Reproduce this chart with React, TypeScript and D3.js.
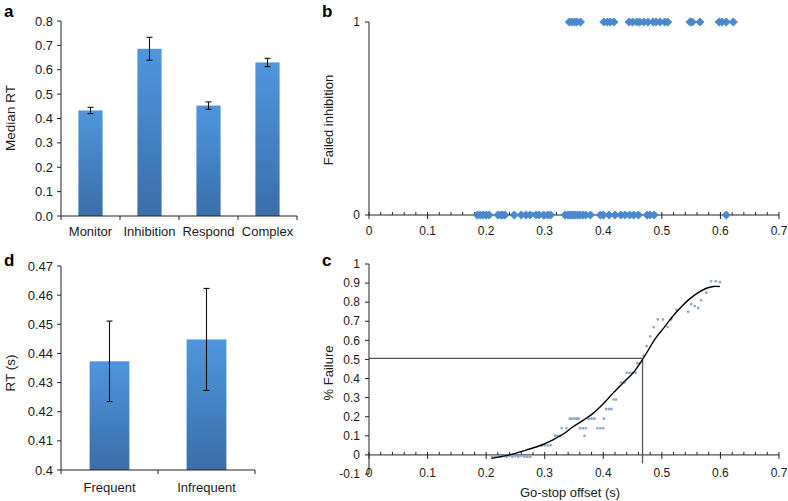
import React from "react";
import * as d3 from "d3";

// ---------- Data ----------
const taskCategories = ["Monitor", "Inhibition", "Respond", "Complex"];
const taskMedianRT = [0.433, 0.686, 0.453, 0.63];
const taskRTError = [0.013, 0.047, 0.015, 0.017];
const taskTicks = [0, 0.1, 0.2, 0.3, 0.4, 0.5, 0.6, 0.7, 0.8];

const freqCategories = ["Frequent", "Infrequent"];
const freqRT = [0.4373, 0.4448];
const freqRTError = [0.0138, 0.0175];
const freqTicks = [0.4, 0.41, 0.42, 0.43, 0.44, 0.45, 0.46, 0.47];

const failedOffsets = [0.342, 0.346, 0.351, 0.355, 0.361, 0.401, 0.407, 0.412, 0.418, 0.444, 0.45, 0.457, 0.462, 0.469, 0.476, 0.485, 0.49, 0.497, 0.505, 0.51, 0.548, 0.552, 0.565, 0.598, 0.603, 0.61, 0.622];
const successOffsets = [0.185, 0.19, 0.195, 0.2, 0.205, 0.22, 0.225, 0.228, 0.232, 0.248, 0.26, 0.268, 0.275, 0.285, 0.29, 0.298, 0.305, 0.31, 0.335, 0.34, 0.343, 0.346, 0.349, 0.352, 0.356, 0.36, 0.365, 0.37, 0.378, 0.395, 0.4, 0.41, 0.42, 0.43, 0.437, 0.445, 0.452, 0.46, 0.475, 0.48, 0.487, 0.61];
const offsetTicks = [0, 0.1, 0.2, 0.3, 0.4, 0.5, 0.6, 0.7];

const failX = [0.21, 0.215, 0.22, 0.225, 0.23, 0.235, 0.24, 0.245, 0.25, 0.255, 0.26, 0.265, 0.27, 0.275, 0.295, 0.3, 0.305, 0.31, 0.318, 0.322, 0.326, 0.329, 0.337, 0.343, 0.347, 0.351, 0.355, 0.358, 0.36, 0.365, 0.37, 0.368, 0.375, 0.38, 0.385, 0.39, 0.395, 0.4, 0.401, 0.405, 0.41, 0.414, 0.418, 0.422, 0.43, 0.436, 0.44, 0.445, 0.45, 0.455, 0.458, 0.462, 0.469, 0.474, 0.48, 0.486, 0.493, 0.502, 0.51, 0.516, 0.525, 0.545, 0.55, 0.556, 0.562, 0.567, 0.576, 0.584, 0.592, 0.599];
const failY = [-0.01, -0.01, -0.01, -0.01, -0.005, -0.01, -0.005, -0.01, -0.005, -0.01, -0.005, -0.01, -0.01, -0.01, 0.05, 0.05, 0.05, 0.05, 0.1, 0.1, 0.1, 0.14, 0.14, 0.19, 0.19, 0.19, 0.19, 0.19, 0.14, 0.14, 0.14, 0.1, 0.19, 0.19, 0.19, 0.14, 0.14, 0.14, 0.19, 0.24, 0.24, 0.24, 0.29, 0.29, 0.38, 0.38, 0.43, 0.43, 0.43, 0.43, 0.48, 0.48, 0.52, 0.57, 0.62, 0.67, 0.71, 0.71, 0.67, 0.71, 0.76, 0.75, 0.79, 0.78, 0.77, 0.81, 0.85, 0.91, 0.91, 0.905];
const fitX = [0.209, 0.24, 0.269, 0.295, 0.314, 0.333, 0.349, 0.366, 0.383, 0.4, 0.417, 0.434, 0.451, 0.467, 0.49, 0.505, 0.519, 0.533, 0.547, 0.562, 0.576, 0.588, 0.599];
const fitY = [-0.018, 0.0, 0.026, 0.052, 0.079, 0.112, 0.149, 0.182, 0.219, 0.268, 0.325, 0.378, 0.43, 0.5, 0.614, 0.672, 0.728, 0.775, 0.816, 0.85, 0.873, 0.882, 0.882];
const fitThreshold = 0.506;
const fitThresholdOffset = 0.467;
const failureTicks = [-0.1, 0, 0.1, 0.2, 0.3, 0.4, 0.5, 0.6, 0.7, 0.8, 0.9, 1];

// ---------- Styles ----------
const FONT = "'Liberation Sans', Arial, Helvetica, sans-serif";
const TXT = "#1a1a1a";
const AX = "#222";

function fmt(v: number) {
  return v < 0 ? "-" + String(Math.abs(v)) : String(v);
}

function BarPanel(props: {
  cats: string[]; vals: number[]; errs: number[]; ticks: number[];
  x0: number; x1: number; yTop: number; yBot: number; domain: [number, number];
  tickFmt: (v: number) => string; title: string; titleY: number; catY: number; fontSize: number;
}) {
  const { cats, vals, errs, ticks, x0, x1, yTop, yBot, domain, tickFmt, title, titleY, catY, fontSize } = props;
  const x = d3.scaleBand().domain(cats).range([x0, x1]).paddingInner(0.59).paddingOuter(0.295);
  const y = d3.scaleLinear().domain(domain).range([yBot, yTop]);
  const step = x.step();
  return (
    <g>
      {cats.map((c, i) => (
        <rect key={c} x={x(c)!} y={y(vals[i])} width={x.bandwidth()} height={yBot - y(vals[i])} fill="url(#barGrad)" />
      ))}
      {cats.map((c, i) => {
        const cx = x(c)! + x.bandwidth() / 2;
        const hi = y(vals[i] + errs[i]);
        const lo = y(vals[i] - errs[i]);
        return (
          <g key={c + "e"} stroke="#111" strokeWidth={1.1}>
            <line x1={cx} x2={cx} y1={hi} y2={lo} />
            <line x1={cx - 3} x2={cx + 3} y1={hi} y2={hi} />
            <line x1={cx - 3} x2={cx + 3} y1={lo} y2={lo} />
          </g>
        );
      })}
      <line x1={x0} x2={x0} y1={yTop} y2={yBot} stroke={AX} strokeWidth={1} />
      <line x1={x0} x2={x1} y1={yBot} y2={yBot} stroke={AX} strokeWidth={1} />
      {ticks.map((t) => (
        <g key={t}>
          <line x1={x0 - 4} x2={x0} y1={y(t)} y2={y(t)} stroke={AX} />
          <text x={x0 - 8} y={y(t)} dy="0.35em" textAnchor="end" fontSize={fontSize} fill={TXT} fontFamily={FONT}>{tickFmt(t)}</text>
        </g>
      ))}
      {d3.range(cats.length + 1).map((i) => (
        <line key={i} x1={x0 + i * step} x2={x0 + i * step} y1={yBot} y2={yBot + 4} stroke={AX} />
      ))}
      {cats.map((c) => (
        <text key={c + "l"} x={x(c)! + x.bandwidth() / 2} y={catY} dy="0.35em" textAnchor="middle" fontSize={fontSize} fill={TXT} fontFamily={FONT}>{c}</text>
      ))}
      <text transform={`translate(10,${titleY}) rotate(-90)`} dy="0.35em" textAnchor="middle" fontSize={13.5} fill={TXT} fontFamily={FONT}>{title}</text>
    </g>
  );
}

function OffsetAxis(props: { x: d3.ScaleLinear<number, number>; y0: number; labelY: number }) {
  const { x, y0, labelY } = props;
  const minors = d3.range(0, 71, 2).map((v) => v / 100);
  return (
    <g>
      <line x1={x(0)} x2={x(0.7)} y1={y0} y2={y0} stroke={AX} />
      {minors.map((m, i) => (
        <line key={i} x1={x(m)} x2={x(m)} y1={y0 - 3} y2={i % 5 === 0 ? y0 + 4 : y0} stroke={AX} />
      ))}
      {offsetTicks.map((t) => (
        <text key={t} x={x(t)} y={labelY} dy="0.35em" textAnchor="middle" fontSize={12} fill={TXT} fontFamily={FONT}>{fmt(t)}</text>
      ))}
    </g>
  );
}

export default function App() {
  // panel b
  const xb = d3.scaleLinear().domain([0, 0.7]).range([369, 779]);
  const yb = d3.scaleLinear().domain([0, 1]).range([215, 22]);
  // panel c
  const xc = d3.scaleLinear().domain([0, 0.7]).range([369, 779]);
  const yc = d3.scaleLinear().domain([-0.1, 1]).range([474, 264]);

  const diamond = d3.symbol().type(d3.symbolSquare).size(34)()!;
  const fitLine = d3.line<number>().x((_, i) => xc(fitX[i])).y((d) => yc(d)).curve(d3.curveCatmullRom.alpha(0.5));

  return (
    <svg width={788} height={501} style={{ position: "absolute", left: 0, top: 0, background: "#fff" }}>
      <defs>
        <linearGradient id="barGrad" x1="0" y1="0" x2="0" y2="1">
          <stop offset="0%" stopColor="#4f96de" />
          <stop offset="100%" stopColor="#3a6ea9" />
        </linearGradient>
      </defs>

      {/* Panel labels */}
      <text x={4} y={17} fontSize={17} fontWeight="bold" fill="#000" fontFamily={FONT}>a</text>
      <text x={322} y={17} fontSize={17} fontWeight="bold" fill="#000" fontFamily={FONT}>b</text>
      <text x={4} y={266} fontSize={17} fontWeight="bold" fill="#000" fontFamily={FONT}>d</text>
      <text x={322} y={266} fontSize={17} fontWeight="bold" fill="#000" fontFamily={FONT}>c</text>

      {/* Panel a */}
      <BarPanel cats={taskCategories} vals={taskMedianRT} errs={taskRTError} ticks={taskTicks}
        x0={61} x1={297} yTop={21} yBot={216} domain={[0, 0.8]} tickFmt={(v) => v.toFixed(1)}
        title="Median RT" titleY={118} catY={231} fontSize={13} />

      {/* Panel d */}
      <BarPanel cats={freqCategories} vals={freqRT} errs={freqRTError} ticks={freqTicks}
        x0={61} x1={255} yTop={266} yBot={470} domain={[0.4, 0.47]} tickFmt={(v) => (v === 0.4 ? "0.4" : v.toFixed(2))}
        title="RT (s)" titleY={373} catY={487} fontSize={13} />

      {/* Panel b */}
      <g>
        <line x1={xb(0)} x2={xb(0)} y1={yb(1)} y2={yb(0)} stroke={AX} />
        {[0, 1].map((t) => (
          <g key={t}>
            <line x1={xb(0) - 4} x2={xb(0)} y1={yb(t)} y2={yb(t)} stroke={AX} />
            <text x={xb(0) - 9} y={yb(t)} dy="0.35em" textAnchor="end" fontSize={12} fill={TXT} fontFamily={FONT}>{t}</text>
          </g>
        ))}
        <OffsetAxis x={xb} y0={yb(0)} labelY={231} />
        {successOffsets.map((v, i) => (
          <path key={"s" + i} d={diamond} transform={`translate(${xb(v)},${yb(0)}) rotate(45)`} fill="#4a88cc" stroke="#4a88cc" strokeWidth={0.8} strokeLinejoin="round" />
        ))}
        {failedOffsets.map((v, i) => (
          <path key={"f" + i} d={diamond} transform={`translate(${xb(v)},${yb(1)}) rotate(45)`} fill="#4a88cc" stroke="#4a88cc" strokeWidth={0.8} strokeLinejoin="round" />
        ))}
        <text transform={`translate(328,120) rotate(-90)`} dy="0.35em" textAnchor="middle" fontSize={13} fill={TXT} fontFamily={FONT}>Failed inhibition</text>
      </g>

      {/* Panel c */}
      <g>
        <line x1={xc(0)} x2={xc(0)} y1={yc(1)} y2={yc(-0.1)} stroke={AX} />
        {failureTicks.map((t) => (
          <g key={t}>
            <line x1={xc(0) - 4} x2={xc(0)} y1={yc(t)} y2={yc(t)} stroke={AX} />
            <text x={xc(0) - 9} y={yc(t)} dy="0.35em" textAnchor="end" fontSize={12} fill={TXT} fontFamily={FONT}>{fmt(t)}</text>
          </g>
        ))}
        <OffsetAxis x={xc} y0={yc(0)} labelY={473} />
        {failX.map((v, i) => (
          <rect key={"p" + i} x={xc(v) - 1.3} y={yc(failY[i]) - 1.3} width={2.6} height={2.6} rx={0.8} fill="#7d9cc4" fillOpacity={0.85} />
        ))}
        <line x1={xc(0)} x2={xc(fitThresholdOffset)} y1={yc(fitThreshold)} y2={yc(fitThreshold)} stroke="#555" strokeWidth={1.3} />
        <line x1={xc(fitThresholdOffset)} x2={xc(fitThresholdOffset)} y1={yc(fitThreshold)} y2={yc(-0.045)} stroke="#555" strokeWidth={1.3} />
        <path d={fitLine(fitY)!} fill="none" stroke="#000" strokeWidth={1.4} />
        <text transform={`translate(328,373) rotate(-90)`} dy="0.35em" textAnchor="middle" fontSize={13} fill={TXT} fontFamily={FONT}>% Failure</text>
        <text x={570} y={492} dy="0.35em" textAnchor="middle" fontSize={13} fill={TXT} fontFamily={FONT}>Go-stop offset (s)</text>
      </g>
    </svg>
  );
}
